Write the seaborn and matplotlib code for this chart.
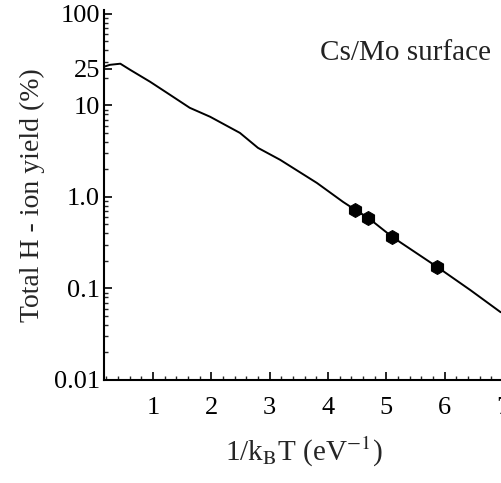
import numpy as np
import pandas as pd
import seaborn as sns
import matplotlib
matplotlib.use("Agg")
from matplotlib import pyplot as plt
from matplotlib.ticker import FixedLocator, MultipleLocator, LogLocator, NullFormatter

# curve: 1/kBT (eV^-1) vs total H- yield (%)
curve_x = [0.16, 0.26, 0.44, 0.61, 0.95, 1.24, 1.63, 1.98, 2.49, 2.80, 3.18, 3.81, 4.26, 4.47, 4.69, 5.10, 5.87, 6.44, 6.96]
curve_y = [26.4, 27.7, 28.5, 24.4, 18.1, 13.7, 9.4, 7.5, 5.0, 3.43, 2.54, 1.42, 0.88, 0.72, 0.59, 0.366, 0.172, 0.096, 0.055]

# measured points
meas_x = [4.47, 4.69, 5.10, 5.87]
meas_y = [0.72, 0.59, 0.366, 0.172]

ytick_vals = [0.01, 0.1, 1.0, 10, 25, 100]
ytick_labels = ["0.01", "0.1", "1.0", "10", "25", "100"]
xtick_vals = [1, 2, 3, 4, 5, 6, 7]

sns.set_style("ticks")
plt.rcParams['font.family'] = ['Liberation Serif', 'DejaVu Serif']
plt.rcParams['mathtext.fontset'] = 'stix'

curve = pd.DataFrame({"x": curve_x, "y": curve_y})
meas = pd.DataFrame({"x": meas_x, "y": meas_y})

fig = plt.figure(figsize=(5.01, 4.83), dpi=100)
ax = fig.add_axes([104 / 501, 103 / 483, 399 / 501, 370 / 483])

sns.lineplot(data=curve, x="x", y="y", ax=ax, color="black", linewidth=1.4)
sns.scatterplot(data=meas, x="x", y="y", ax=ax, color="black", marker="h",
                s=100, edgecolor="black", zorder=3)

ax.set_yscale("log")
ax.set_xlim(0.16, 7.0)
ax.set_ylim(0.01, 110)

ax.yaxis.set_major_locator(FixedLocator(ytick_vals))
ax.set_yticklabels(ytick_labels)
ax.yaxis.set_minor_locator(LogLocator(base=10, subs=np.arange(2, 10)))
ax.yaxis.set_minor_formatter(NullFormatter())
ax.xaxis.set_major_locator(FixedLocator(xtick_vals))
ax.xaxis.set_minor_locator(MultipleLocator(0.2))

ax.tick_params(which="major", direction="in", length=6, width=1.2, labelsize=19, colors="black")
ax.tick_params(which="minor", direction="in", length=3, width=1.0)
ax.tick_params(axis="x", which="major", pad=12)
ax.tick_params(axis="y", which="major", pad=3)

for s in ["top", "right"]:
    ax.spines[s].set_visible(False)
for s in ["left", "bottom"]:
    ax.spines[s].set_linewidth(1.5)
    ax.spines[s].set_color("black")

ax.set_xlabel(r"1/k$_{\rm B}$T (eV$^{-1}$)", fontsize=21, labelpad=12)
ax.set_ylabel("Total H - ion yield (%)", fontsize=20, labelpad=6)

ax.text(0.97, 0.885, "Cs/Mo surface", transform=ax.transAxes, fontsize=21,
        ha="right", va="center", color="#222222")

fig.savefig("out.png", dpi=100)
